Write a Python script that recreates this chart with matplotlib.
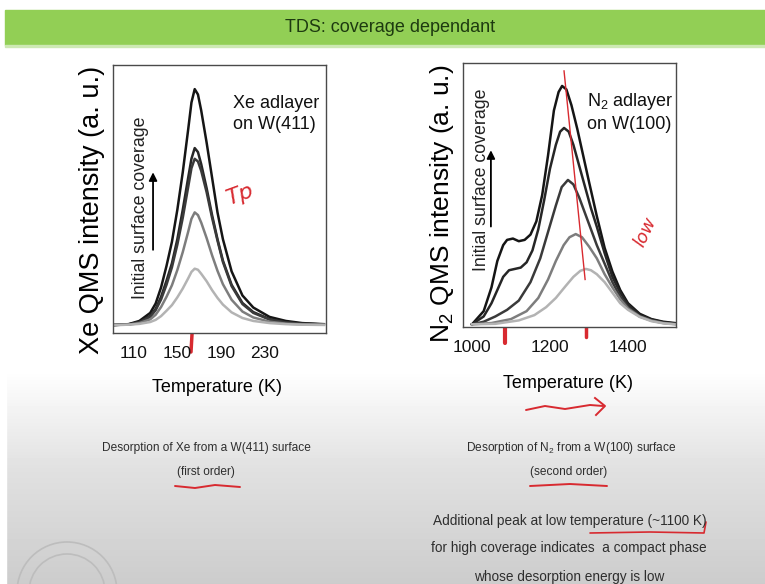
import matplotlib
matplotlib.use('Agg')
import matplotlib.pyplot as plt
import numpy as np
from matplotlib.patches import Ellipse, Rectangle

# ---------------------------------------------------------------
# Xe on W(411) : first order desorption (5 coverages, high -> low)
T_xe = [92, 105, 115, 125, 130, 135, 140, 145, 150, 155, 160, 163, 166,
        169, 172, 177, 182, 187, 192, 200, 210, 220, 235, 250, 265, 285]
xe_1 = [0.03, 0.033, 0.045, 0.075, 0.11, 0.17, 0.25, 0.34, 0.46, 0.60, 0.76,
        0.86, 0.91, 0.89, 0.83, 0.71, 0.58, 0.45, 0.35, 0.23, 0.14, 0.095,
        0.06, 0.045, 0.037, 0.033]
xe_2 = [0.03, 0.032, 0.041, 0.064, 0.09, 0.135, 0.195, 0.26, 0.35, 0.46, 0.58,
        0.65, 0.69, 0.675, 0.63, 0.54, 0.44, 0.35, 0.27, 0.18, 0.112, 0.078,
        0.052, 0.04, 0.035, 0.032]
xe_3 = [0.03, 0.032, 0.04, 0.06, 0.085, 0.125, 0.18, 0.245, 0.33, 0.43, 0.545,
        0.615, 0.65, 0.64, 0.605, 0.525, 0.43, 0.345, 0.265, 0.175, 0.108, 0.075,
        0.05, 0.039, 0.034, 0.032]
xe_4 = [0.03, 0.031, 0.037, 0.051, 0.068, 0.097, 0.135, 0.178, 0.235, 0.302,
        0.378, 0.426, 0.45, 0.44, 0.412, 0.354, 0.29, 0.232, 0.182, 0.124,
        0.08, 0.058, 0.042, 0.035, 0.032, 0.031]
xe_5 = [0.03, 0.031, 0.034, 0.041, 0.049, 0.063, 0.083, 0.104, 0.133, 0.166,
        0.204, 0.228, 0.24, 0.236, 0.221, 0.193, 0.16, 0.131, 0.106, 0.077,
        0.056, 0.045, 0.037, 0.033, 0.031, 0.03]

# N2 on W(100) : second order desorption (5 coverages, high -> low)
T_n1 = [1000, 1030, 1050, 1065, 1080, 1090, 1105, 1120, 1135, 1150, 1165,
        1180, 1195, 1210, 1222, 1231, 1242, 1255, 1270, 1285, 1300, 1320,
        1340, 1360, 1380, 1400, 1430, 1460, 1490, 1520]
n2_1 = [0.01, 0.06, 0.15, 0.25, 0.31, 0.33, 0.335, 0.325, 0.33, 0.35, 0.40,
        0.50, 0.65, 0.82, 0.89, 0.913, 0.90, 0.84, 0.75, 0.65, 0.55, 0.42,
        0.30, 0.21, 0.14, 0.09, 0.05, 0.03, 0.02, 0.015]
T_n2 = [1000, 1030, 1050, 1065, 1080, 1095, 1110, 1125, 1140, 1155, 1170,
        1185, 1200, 1215, 1226, 1236, 1248, 1260, 1275, 1290, 1305, 1320,
        1340, 1360, 1380, 1400, 1430, 1460, 1490, 1520]
n2_2 = [0.01, 0.04, 0.09, 0.14, 0.19, 0.215, 0.22, 0.225, 0.245, 0.29, 0.37,
        0.48, 0.60, 0.69, 0.74, 0.754, 0.74, 0.69, 0.61, 0.53, 0.45, 0.38,
        0.28, 0.19, 0.13, 0.085, 0.045, 0.028, 0.018, 0.013]
T_n3 = [1000, 1030, 1060, 1090, 1120, 1150, 1175, 1195, 1215, 1230, 1246,
        1260, 1275, 1290, 1305, 1320, 1340, 1360, 1380, 1400, 1430, 1460,
        1490, 1520]
n2_3 = [0.01, 0.02, 0.04, 0.065, 0.10, 0.17, 0.26, 0.36, 0.46, 0.53, 0.557,
        0.54, 0.49, 0.43, 0.37, 0.31, 0.24, 0.17, 0.115, 0.075, 0.04, 0.025,
        0.016, 0.012]
T_n4 = [1000, 1050, 1100, 1140, 1170, 1195, 1215, 1235, 1250, 1266, 1282,
        1300, 1320, 1340, 1360, 1380, 1400, 1430, 1460, 1490, 1520]
n2_4 = [0.01, 0.015, 0.03, 0.06, 0.11, 0.18, 0.25, 0.31, 0.34, 0.352, 0.34,
        0.305, 0.26, 0.20, 0.15, 0.105, 0.07, 0.04, 0.024, 0.015, 0.011]
T_n5 = [1000, 1060, 1120, 1160, 1190, 1215, 1240, 1260, 1278, 1292, 1305,
        1320, 1340, 1360, 1380, 1400, 1430, 1460, 1490, 1520]
n2_5 = [0.01, 0.012, 0.025, 0.045, 0.075, 0.11, 0.155, 0.19, 0.213, 0.22,
        0.215, 0.20, 0.17, 0.13, 0.09, 0.065, 0.038, 0.022, 0.014, 0.01]

xe_ticks = [110, 150, 190, 230]
n2_ticks = [1000, 1200, 1400]
shades = ['#151515', '#262626', '#3a3a3a', '#7d7d7d', '#b3b3b3']
# ---------------------------------------------------------------

plt.rcParams['font.family'] = 'Liberation Sans'

W, H = 765, 584
fig = plt.figure(figsize=(W / 100, H / 100), dpi=100)

def fx(px):
    return px / W

def fy(py):
    return 1 - py / H

# slide background: white fading to grey at the bottom
bg = fig.add_axes([0, 0, 1, 1], zorder=-10)
rows = np.arange(H)
grad = np.interp(rows, [0, 370, 470, 584], [1.0, 1.0, 0.88, 0.80])[:, None]
bg.imshow(grad, aspect='auto', cmap='gray', vmin=0, vmax=1, extent=[0, 1, 0, 1])
bg.add_patch(Rectangle((0, 0), fx(6), 1, color='white'))
bg.add_patch(Rectangle((fx(5), fy(45)), 1 - fx(5), fy(10) - fy(45), color='#92cf55'))
bg.add_patch(Rectangle((fx(5), fy(47)), 1 - fx(5), fy(45) - fy(47), color='#cde9b3'))
for r in (50, 38):
    bg.add_patch(Ellipse((fx(67), fy(592)), 2 * r / W, 2 * r / H, fill=False,
                         ec='#bdbdbd', lw=1.2))
bg.set_xlim(0, 1)
bg.set_ylim(0, 1)
bg.axis('off')

fig.text(fx(390), fy(27), 'TDS: coverage dependant', ha='center', va='center',
         fontsize=13, color='#1d3a10')

ax1 = fig.add_axes([fx(113), fy(333), fx(213), 268 / H])
ax2 = fig.add_axes([fx(463), fy(327), fx(213), 264 / H])

for y, c in zip([xe_1, xe_2, xe_3, xe_4, xe_5], shades):
    ax1.plot(T_xe, y, color=c, lw=1.8)
for t, y, c in zip([T_n1, T_n2, T_n3, T_n4, T_n5],
                   [n2_1, n2_2, n2_3, n2_4, n2_5], shades):
    ax2.plot(t, y, color=c, lw=1.8)

ax1.set_xlim(90.7, 287)
ax2.set_xlim(977, 1523)
ax1.set_xticks(xe_ticks)
ax2.set_xticks(n2_ticks)
for ax in (ax1, ax2):
    ax.set_ylim(0, 1)
    ax.set_yticks([])
    ax.tick_params(axis='x', length=0, pad=9, labelsize=12.5, labelcolor='#111111')
    for s in ax.spines.values():
        s.set_color('#4a4a4a')
        s.set_linewidth(1.0)

# coverage arrows and labels
ax1.annotate('', xy=(0.188, 0.61), xytext=(0.188, 0.30), xycoords='axes fraction',
             arrowprops=dict(arrowstyle='-|>', color='black', lw=1.3, mutation_scale=12))
ax1.text(0.127, 0.468, 'Initial surface coverage', rotation=90, ha='center',
         va='center', fontsize=12.8, color='#222222', transform=ax1.transAxes)
ax2.annotate('', xy=(0.131, 0.68), xytext=(0.131, 0.37), xycoords='axes fraction',
             arrowprops=dict(arrowstyle='-|>', color='black', lw=1.3, mutation_scale=12))
ax2.text(0.089, 0.557, 'Initial surface coverage', rotation=90, ha='center',
         va='center', fontsize=12.8, color='#222222', transform=ax2.transAxes)

ax1.text(0.563, 0.817, 'Xe adlayer\non W(411)', ha='left', va='center',
         fontsize=13, linespacing=1.35, transform=ax1.transAxes, color='#111111')
ax2.text(0.582, 0.814, 'N$_\\mathregular{2}$ adlayer\non W(100)', ha='left',
         va='center', fontsize=13, linespacing=1.35, transform=ax2.transAxes,
         color='#111111')

# axis titles
fig.text(fx(92), fy(210), 'Xe QMS intensity (a. u.)', rotation=90, ha='center',
         va='center', fontsize=19.5)
fig.text(fx(442), fy(204), 'N$_\\mathregular{2}$ QMS intensity (a. u.)', rotation=90,
         ha='center', va='center', fontsize=19)
fig.text(fx(217), fy(387), 'Temperature (K)', ha='center', va='center', fontsize=13)
fig.text(fx(568), fy(383), 'Temperature (K)', ha='center', va='center', fontsize=13)

# captions
cap = dict(ha='center', va='center', color='#2e2e2e')
fig.text(fx(206), fy(448), 'Desorption of Xe from a W(411) surface', fontsize=8.6, **cap)
fig.text(fx(206), fy(472), '(first order)', fontsize=8.6, **cap)
fig.text(fx(571), fy(448), 'Desorption of N$_\\mathregular{2}$ from a W(100) surface',
         fontsize=8.6, **cap)
fig.text(fx(569), fy(472), '(second order)', fontsize=8.6, **cap)
fig.text(fx(570), fy(521), 'Additional peak at low temperature (~1100 K)', fontsize=9.8, **cap)
fig.text(fx(569), fy(548), 'for high coverage indicates  a compact phase', fontsize=9.8, **cap)
fig.text(fx(569), fy(577), 'whose desorption energy is low', fontsize=9.8, **cap)

# lecturer's red ink
ink = '#d82a30'
strokes = [
    ([243, 255, 268, 281, 294, 307], [150, 147, 149, 146, 148, 146], 1.4),
    ([154, 153], [117, 157], 3.0),
    ([196, 194], [132, 177], 3.0),
    ([193, 191], [317, 352], 2.5),
    ([203, 202], [72, 80], 1.5),
    ([588, 630, 672], [108, 106, 109], 1.4),
    ([595, 670], [149, 149], 1.6),
    ([505, 505], [303, 343], 3.0),
    ([586, 586], [322, 337], 2.5),
    ([598, 632], [272, 256], 1.2),
    ([526, 545, 565, 590, 603], [410, 406, 409, 405, 406], 1.4),
    ([175, 195, 215, 240], [486, 488, 485, 487], 1.4),
    ([530, 570, 607], [486, 484, 486], 1.4),
    ([590, 650, 704, 706], [533, 532, 533, 522], 1.2),
]
for xs, ys, lw in strokes:
    bg.plot([fx(v) for v in xs], [fy(v) for v in ys], color=ink, lw=lw,
            solid_capstyle='round')
bg.plot([fx(595), fx(605), fx(596)], [fy(398), fy(406), fy(415)], color=ink, lw=1.4)
ax2.plot([1236, 1290], [0.97, 0.18], color=ink, lw=1.0)
bg.add_patch(Ellipse((fx(193), fy(275)), 14 / W, 24 / H, fill=False, ec=ink, lw=1.2))
bg.add_patch(Ellipse((fx(508), fy(235)), 24 / W, 44 / H, fill=False, ec=ink, lw=1.2))
fig.text(fx(240), fy(195), 'Tp', color=ink, fontsize=16, style='italic',
         rotation=20, ha='center', va='center', family='DejaVu Sans')
fig.text(fx(645), fy(232), 'low', color=ink, fontsize=13, style='italic',
         rotation=65, ha='center', va='center', family='DejaVu Sans')

fig.savefig('out.png', dpi=100)
